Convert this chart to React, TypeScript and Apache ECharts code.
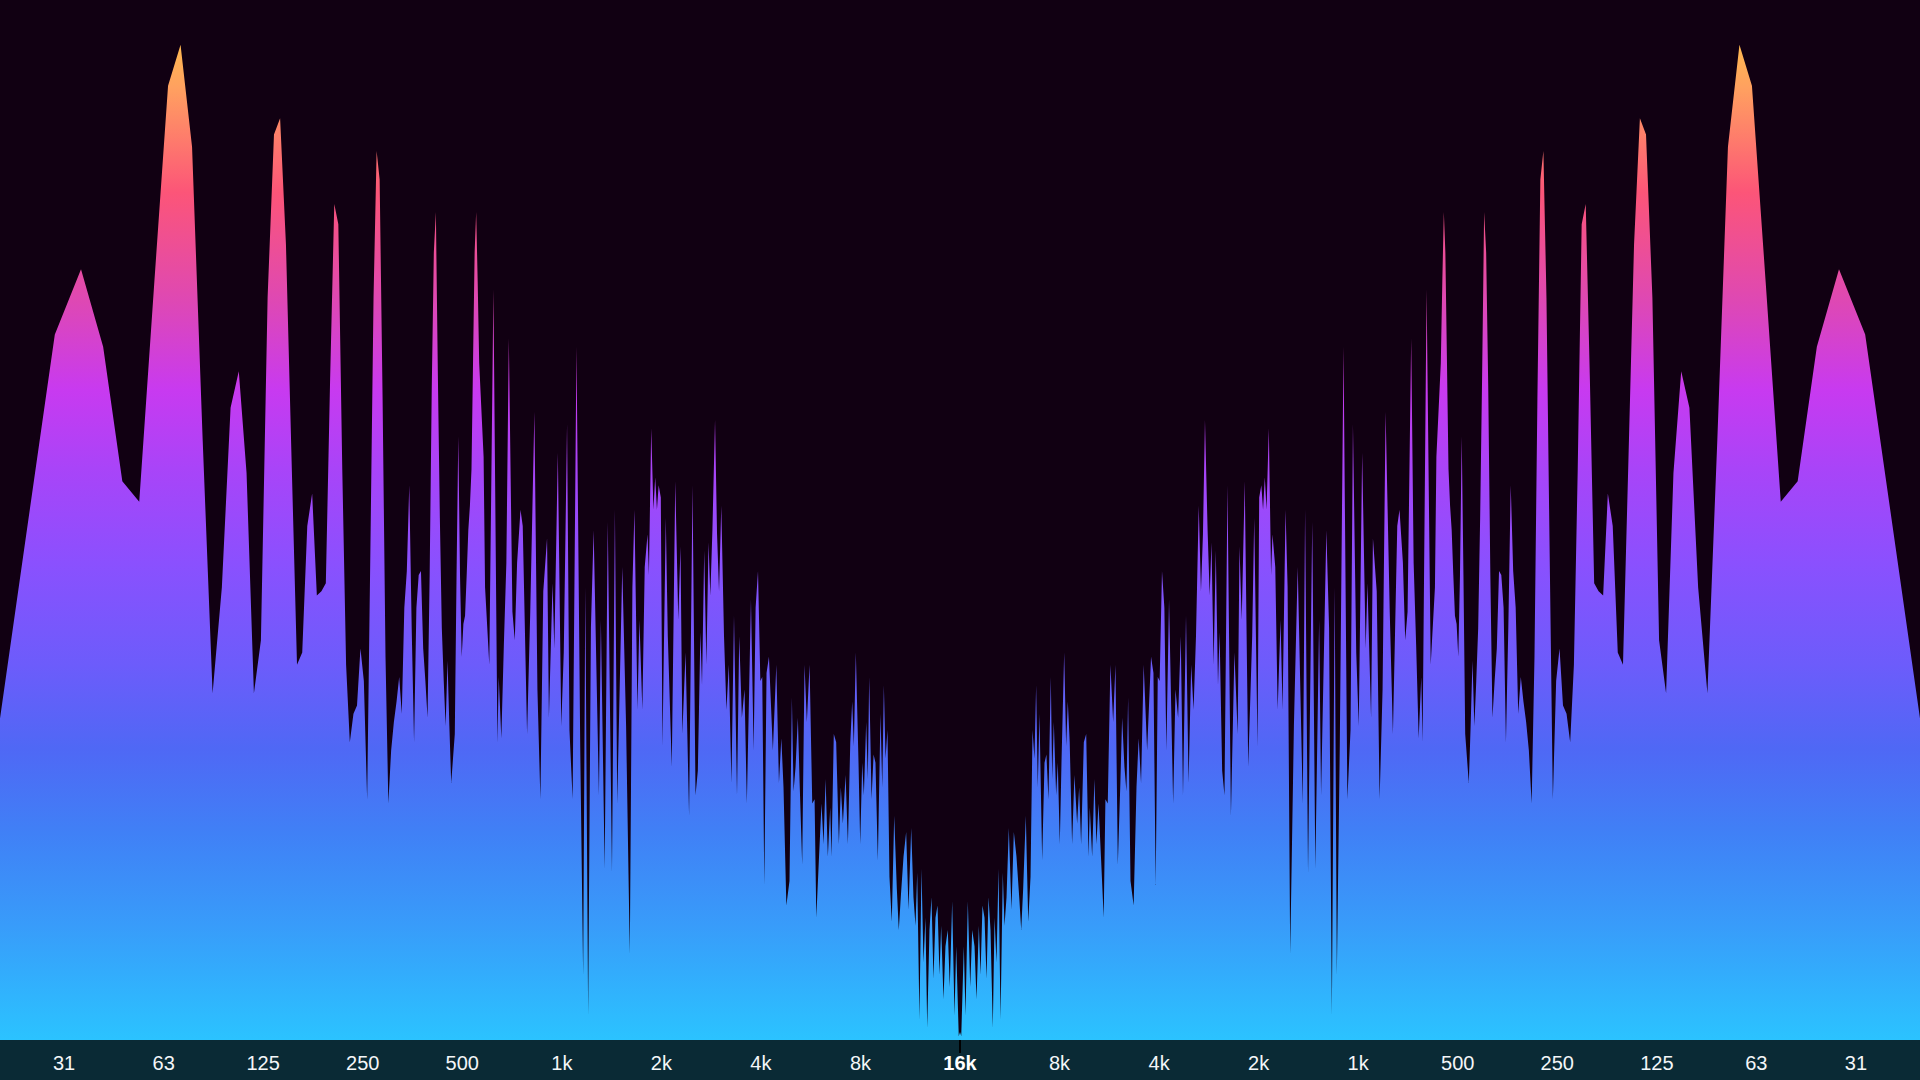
import React, { useEffect, useRef } from "react";
import * as echarts from "echarts";

// FFT bin width (48 kHz / 8192-point FFT) and displayed frequency range
const BIN_HZ = 48000 / 8192;
const FREQ_MIN = 20;
const FREQ_MAX = 16000;

// [FFT bin index, level 0..255]
const lowBand: [number, number][] = [
  [3, 47], [4, 118], [5, 173], [6, 189], [7, 170], [8, 137], [9, 132], [10, 186],
  [11, 234], [12, 244], [13, 219], [14, 147], [15, 85], [16, 111], [17, 155], [18, 164],
  [19, 139], [20, 85], [21, 98], [22, 182], [23, 222], [24, 226], [25, 195], [26, 142],
  [27, 92], [28, 95], [29, 126], [30, 134], [31, 109],
];

const bassBand: [number, number][] = [
  [32, 110], [33, 112], [34, 162], [35, 205], [36, 200], [37, 140], [38, 92], [39, 73],
  [40, 80], [41, 82], [42, 96], [43, 88], [44, 59], [45, 120], [46, 182], [47, 218],
  [48, 211], [49, 157], [50, 94], [51, 58], [52, 71], [53, 78], [54, 83], [55, 89],
  [56, 80], [57, 106], [58, 115], [59, 136], [60, 101], [61, 73], [62, 106], [63, 114],
  [64, 115], [65, 96], [66, 88], [67, 79], [68, 114], [69, 160], [70, 193], [71, 203],
  [72, 163], [73, 128], [74, 101], [75, 88], [76, 77], [77, 93], [78, 77], [79, 63],
  [80, 69], [81, 75], [82, 114], [83, 148], [84, 114], [85, 94], [86, 102], [87, 104],
  [88, 114], [89, 125], [90, 131], [91, 140], [92, 167], [93, 193], [94, 203], [95, 186],
  [96, 166],
];

const midBand: [number, number][] = [
  [99, 143], [100, 111], [103, 92], [106, 184], [109, 73], [110, 89], [112, 74], [114, 97],
  [116, 117], [118, 172], [121, 105], [123, 98], [125, 117], [128, 130], [130, 126], [134, 75],
  [137, 105], [141, 154], [144, 86], [147, 59], [150, 110], [154, 123], [156, 79], [160, 112],
  [162, 96], [166, 144], [170, 77], [173, 95], [177, 151], [180, 76], [184, 59], [189, 170],
  [194, 72], [198, 16], [201, 111], [205, 6], [209, 101], [213, 125], [221, 60], [224, 103],
  [230, 42], [235, 127], [242, 41], [247, 130], [251, 58], [260, 116], [267, 77], [274, 21],
  [279, 111], [283, 130], [289, 81],
];

const upperMidBand: [number, number][] = [
  [293, 103], [299, 81], [304, 116], [310, 124], [313, 114], [318, 150], [323, 130], [327, 138],
  [331, 130], [335, 136], [340, 133], [344, 72], [352, 128], [357, 99], [367, 67], [376, 137],
  [384, 103], [390, 121], [395, 75], [404, 95], [414, 55], [424, 136], [433, 60], [440, 66],
  [448, 100], [453, 87], [460, 120], [467, 92], [474, 122], [480, 109], [487, 125], [496, 152],
  [503, 124], [510, 110], [518, 131], [528, 99], [537, 81], [546, 92], [556, 63], [566, 104],
  [578, 60], [587, 99], [598, 79], [609, 86], [619, 58], [637, 108], [649, 71], [658, 106],
  [669, 115], [680, 88], [689, 89], [699, 38], [710, 90], [722, 94], [742, 71], [760, 92],
  [774, 63], [787, 74], [799, 62], [815, 33], [833, 39], [847, 84], [857, 61], [869, 67],
  [883, 79], [894, 63],
];

const trebleBand: [number, number][] = [
  [910, 43], [925, 92], [940, 78], [958, 92], [976, 58], [992, 59], [1004, 30], [1022, 44],
  [1041, 58], [1056, 48], [1071, 64], [1088, 45], [1106, 57], [1116, 45], [1134, 75], [1153, 73],
  [1175, 48], [1191, 62], [1208, 53], [1231, 65], [1251, 48], [1272, 73], [1289, 83], [1304, 72],
  [1322, 95], [1347, 68], [1363, 48], [1382, 68], [1398, 60], [1421, 78], [1437, 64], [1451, 89],
  [1475, 59], [1496, 70], [1516, 68], [1541, 44], [1570, 80], [1589, 62], [1607, 87], [1626, 69],
  [1648, 76], [1671, 40], [1698, 29], [1727, 55], [1759, 37], [1783, 27], [1808, 35], [1843, 45],
  [1877, 51], [1908, 32], [1944, 52], [1975, 35], [2003, 28], [2027, 41], [2059, 5], [2088, 42],
  [2118, 19], [2147, 30], [2173, 3], [2208, 27], [2239, 35], [2270, 15], [2302, 30], [2335, 33],
  [2367, 16], [2395, 28], [2434, 10], [2468, 23], [2508, 27], [2543, 13], [2586, 34], [2628, 6],
  [2659, 23], [2707, 1], [2731, 2],
];

// octave offsets from 16k for the bottom labels, and their texts (31 ... 16k)
const tickOctaves = [-9, -8, -7, -6, -5, -4, -3, -2, -1, 0, 1, 2, 3, 4, 5, 6, 7, 8, 9];
const tickLabels = ["31", "63", "125", "250", "500", "1k", "2k", "4k", "8k", "16k"];

export default function App() {
  const ref = useRef<HTMLDivElement>(null);

  useEffect(() => {
    if (!ref.current) return;
    const chart = echarts.init(ref.current, null, { renderer: "svg" });
    const points = [...lowBand, ...bassBand, ...midBand, ...upperMidBand, ...trebleBand].map(
      ([k, v]) => [k * BIN_HZ, v]
    );
    const fill = new echarts.graphic.LinearGradient(
      0, 0, 0, 1040,
      [
        { offset: 0.04, color: "#ffbb4f" },
        { offset: 0.085, color: "#ffa060" },
        { offset: 0.185, color: "#fc5578" },
        { offset: 0.29, color: "#de48b4" },
        { offset: 0.375, color: "#c83af0" },
        { offset: 0.45, color: "#a944f8" },
        { offset: 0.54, color: "#8b50fe" },
        { offset: 0.64, color: "#6c5cfb" },
        { offset: 0.72, color: "#4f68f5" },
        { offset: 0.8, color: "#4080f6" },
        { offset: 0.89, color: "#389cfa" },
        { offset: 1, color: "#2bc3ff" },
      ],
      true
    );
    const octaves = Math.log2(FREQ_MAX / FREQ_MIN);
    const areaSeries = (idx: number) => ({
      type: "line",
      xAxisIndex: idx,
      yAxisIndex: idx,
      data: points,
      symbol: "none",
      showSymbol: false,
      silent: true,
      lineStyle: { width: 0, opacity: 0 },
      areaStyle: { color: fill, opacity: 1 },
      z: 2,
    });
    const font = "Liberation Sans, Arial, sans-serif";
    chart.setOption({
      animation: false,
      backgroundColor: "#110012",
      grid: [
        { left: 0, top: 0, width: 960, height: 1040 },
        { left: 960, top: 0, width: 960, height: 1040 },
        { left: 0, top: 0, width: 1920, height: 1040 },
      ],
      xAxis: [
        { type: "log", logBase: 2, min: FREQ_MIN, max: FREQ_MAX, gridIndex: 0, show: false },
        { type: "log", logBase: 2, min: FREQ_MIN, max: FREQ_MAX, gridIndex: 1, inverse: true, show: false },
        {
          type: "value",
          gridIndex: 2,
          min: -octaves,
          max: octaves,
          z: 50,
          axisLine: { show: false },
          axisTick: { show: false },
          splitLine: { show: false },
          axisLabel: {
            show: true,
            customValues: tickOctaves,
            margin: 12,
            formatter: (v: number) => {
              const i = 9 - Math.abs(Math.round(v));
              const t = tickLabels[i];
              return i === 9 ? `{b|${t}}` : `{n|${t}}`;
            },
            rich: {
              n: { color: "#f4f6f8", fontSize: 20, fontFamily: font, lineHeight: 22 },
              b: { color: "#ffffff", fontSize: 20, fontWeight: "bold", fontFamily: font, lineHeight: 22 },
            },
          },
        },
      ],
      yAxis: [
        { type: "value", min: 0, max: 255, gridIndex: 0, show: false },
        { type: "value", min: 0, max: 255, gridIndex: 1, show: false },
        { type: "value", min: 0, max: 1, gridIndex: 2, show: false },
      ],
      graphic: [
        {
          type: "rect",
          z: 0,
          shape: { x: 0, y: 1040, width: 1920, height: 40 },
          style: { fill: "#0a2a35" },
        },
        {
          type: "line",
          z: 1,
          shape: { x1: 960, y1: 1038, x2: 960, y2: 1053 },
          style: { stroke: "#000000", lineWidth: 2 },
        },
      ],
      series: [areaSeries(0), areaSeries(1)],
    });
    return () => chart.dispose();
  }, []);

  return (
    <div
      ref={ref}
      style={{ position: "fixed", left: 0, top: 0, width: 1920, height: 1080 }}
    />
  );
}
